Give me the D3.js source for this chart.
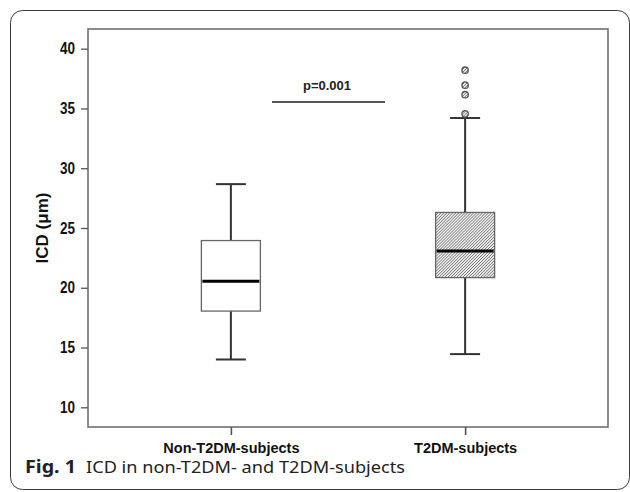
<!DOCTYPE html>
<html>
<head>
<meta charset="utf-8">
<script src="https://cdnjs.cloudflare.com/ajax/libs/d3/7.8.5/d3.min.js"></script>
<style>
  body { margin: 0; background: #fff; }
  svg { display: block; }
</style>
</head>
<body>
<svg width="630" height="492"></svg>
<script>
// values (ICD in µm)
var categories = ["Non-T2DM-subjects", "T2DM-subjects"];
var whiskerLow = [14.0, 14.45];
var q1 = [18.05, 20.85];
var median = [20.55, 23.07];
var q3 = [23.95, 26.3];
var whiskerHigh = [28.67, 34.2];
var outliers = [[], [38.2, 36.95, 36.15, 34.55]];
var yTicks = [10, 15, 20, 25, 30, 35, 40];
var pLabel = "p=0.001";
var pLevel = 35.55;

var svg = d3.select("svg");

// plot frame
var frameL = 88, frameR = 608, frameT = 29, frameB = 427;

var y = d3.scaleLinear()
    .domain([10, 40])
    .range([407.3, 48.7]);

var x = d3.scalePoint()
    .domain(categories)
    .range([frameL, frameR])
    .padding(0.61);

// hatch pattern for T2DM box
var defs = svg.append("defs");
var pat = defs.append("pattern")
    .attr("id", "hatch")
    .attr("patternUnits", "userSpaceOnUse")
    .attr("width", 2.1)
    .attr("height", 2.1)
    .attr("patternTransform", "rotate(45)");
pat.append("rect").attr("width", 2.1).attr("height", 2.1).attr("fill", "#eeeeee");
pat.append("line")
    .attr("x1", 0).attr("y1", 0).attr("x2", 0).attr("y2", 2.1)
    .attr("stroke", "#505050").attr("stroke-width", 1.1);

// outer rounded border of the figure
svg.append("rect")
    .attr("x", 10.5).attr("y", 10.5)
    .attr("width", 619).attr("height", 479)
    .attr("rx", 12)
    .attr("fill", "none")
    .attr("stroke", "#3a3a3a")
    .attr("stroke-width", 1);

// plot frame
svg.append("rect")
    .attr("x", frameL).attr("y", frameT)
    .attr("width", frameR - frameL).attr("height", frameB - frameT)
    .attr("fill", "none")
    .attr("stroke", "#707070")
    .attr("stroke-width", 1.6);

// y axis
var yAxis = d3.axisLeft(y)
    .tickValues(yTicks)
    .tickSize(7)
    .tickPadding(6)
    .tickFormat(d3.format("d"));

var gy = svg.append("g")
    .attr("transform", "translate(" + frameL + ",0)")
    .call(yAxis);
gy.select(".domain").remove();
gy.selectAll("line").attr("stroke", "#555").attr("stroke-width", 1.3);
gy.selectAll("text")
    .attr("fill", "#111")
    .attr("textLength", 15)
    .attr("lengthAdjust", "spacingAndGlyphs")
    .style("font-family", "'Liberation Sans', Arial, sans-serif")
    .style("font-weight", "bold")
    .style("font-size", "16px");

// x axis
var xAxis = d3.axisBottom(x)
    .tickSize(8)
    .tickPadding(8);

var gx = svg.append("g")
    .attr("transform", "translate(0," + frameB + ")")
    .call(xAxis);
gx.select(".domain").remove();
gx.selectAll("line").attr("stroke", "#555").attr("stroke-width", 1.6);
gx.selectAll("text")
    .attr("fill", "#111")
    .style("font-family", "'Liberation Sans', Arial, sans-serif")
    .style("font-weight", "bold")
    .style("font-size", "14.5px");

// y axis title
svg.append("text")
    .attr("transform", "translate(48,228) rotate(-90)")
    .attr("text-anchor", "middle")
    .attr("fill", "#111")
    .style("font-family", "'Liberation Sans', Arial, sans-serif")
    .style("font-weight", "bold")
    .style("font-size", "17px")
    .text("ICD (μm)");

// boxes
var boxW = 59, capW = 30;
var idx = d3.range(categories.length);

var g = svg.append("g");

// whiskers
g.selectAll(".whisker")
    .data(idx)
  .enter().append("line")
    .attr("x1", function(i) { return x(categories[i]); })
    .attr("x2", function(i) { return x(categories[i]); })
    .attr("y1", function(i) { return y(whiskerLow[i]); })
    .attr("y2", function(i) { return y(whiskerHigh[i]); })
    .attr("stroke", "#333")
    .attr("stroke-width", 2);

[whiskerLow, whiskerHigh].forEach(function(arr) {
  g.selectAll(null)
      .data(idx)
    .enter().append("line")
      .attr("x1", function(i) { return x(categories[i]) - capW / 2; })
      .attr("x2", function(i) { return x(categories[i]) + capW / 2; })
      .attr("y1", function(i) { return y(arr[i]); })
      .attr("y2", function(i) { return y(arr[i]); })
      .attr("stroke", "#333")
      .attr("stroke-width", 2);
});

g.selectAll(".box")
    .data(idx)
  .enter().append("rect")
    .attr("x", function(i) { return x(categories[i]) - boxW / 2; })
    .attr("y", function(i) { return y(q3[i]); })
    .attr("width", boxW)
    .attr("height", function(i) { return y(q1[i]) - y(q3[i]); })
    .attr("fill", function(i) { return i === 1 ? "url(#hatch)" : "#fff"; })
    .attr("stroke", "#666")
    .attr("stroke-width", 1.3);

g.selectAll(".median")
    .data(idx)
  .enter().append("line")
    .attr("x1", function(i) { return x(categories[i]) - boxW / 2 + 1; })
    .attr("x2", function(i) { return x(categories[i]) + boxW / 2 - 1; })
    .attr("y1", function(i) { return y(median[i]); })
    .attr("y2", function(i) { return y(median[i]); })
    .attr("stroke", "#000")
    .attr("stroke-width", 3);

// outliers
var pts = [];
outliers.forEach(function(list, i) {
  list.forEach(function(v) { pts.push({ cat: categories[i], v: v }); });
});

g.selectAll(".outlier")
    .data(pts)
  .enter().append("circle")
    .attr("cx", function(d) { return x(d.cat); })
    .attr("cy", function(d) { return y(d.v); })
    .attr("r", 3.2)
    .attr("fill", "url(#hatch)")
    .attr("stroke", "#555")
    .attr("stroke-width", 1.3);

// significance bar
svg.append("line")
    .attr("x1", 272).attr("x2", 385)
    .attr("y1", y(pLevel)).attr("y2", y(pLevel))
    .attr("stroke", "#555")
    .attr("stroke-width", 2);

svg.append("text")
    .attr("x", 327)
    .attr("y", y(pLevel) - 12)
    .attr("text-anchor", "middle")
    .attr("fill", "#222")
    .style("font-family", "'Liberation Sans', Arial, sans-serif")
    .style("font-weight", "bold")
    .style("font-size", "13px")
    .text(pLabel);

// caption
var cap = svg.append("text")
    .attr("x", 25)
    .attr("y", 473)
    .attr("fill", "#222")
    .style("font-family", "'Noto Sans', 'Open Sans', sans-serif")
    .style("font-size", "17px");
cap.append("tspan")
    .style("font-weight", "bold")
    .attr("textLength", 51)
    .attr("lengthAdjust", "spacingAndGlyphs")
    .text("Fig. 1");
cap.append("tspan")
    .attr("x", 86)
    .attr("textLength", 319)
    .attr("lengthAdjust", "spacingAndGlyphs")
    .text("ICD in non-T2DM- and T2DM-subjects");
</script>
</body>
</html>
